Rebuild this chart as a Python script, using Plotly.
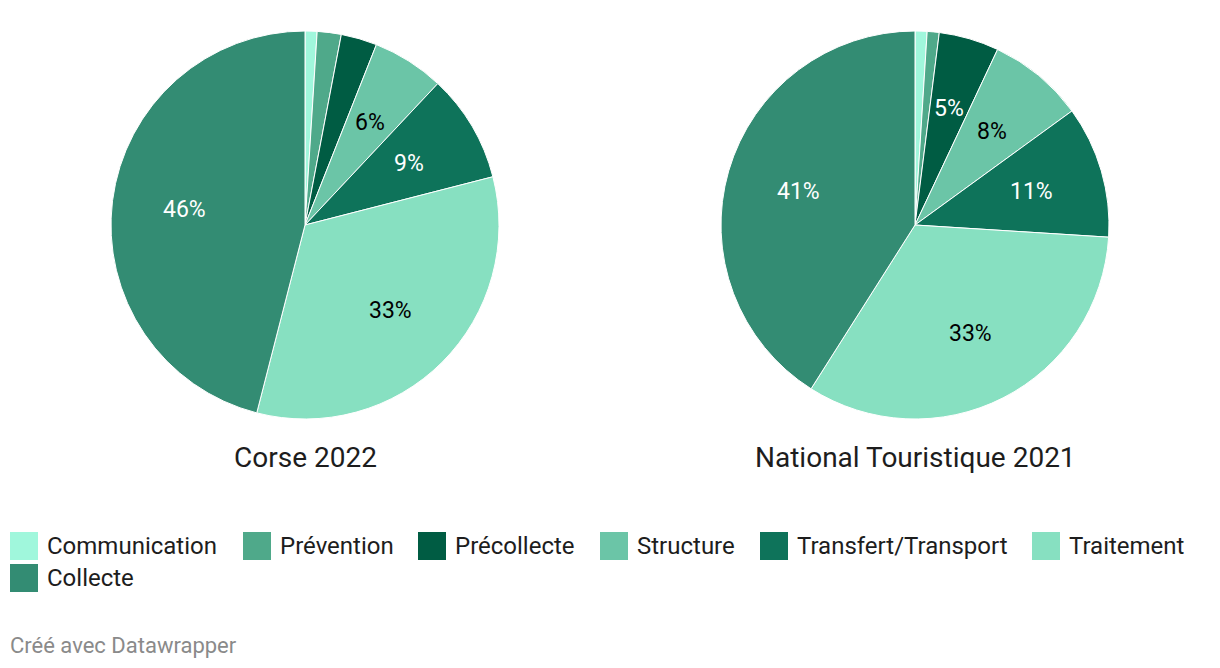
import math
import plotly.graph_objects as go

categories = ["Communication", "Prévention", "Précollecte", "Structure",
              "Transfert/Transport", "Traitement", "Collecte"]
corse_2022 = [1, 2, 3, 6, 9, 33, 46]
national_2021 = [1, 1, 5, 8, 11, 33, 41]
chart_titles = ["Corse 2022", "National Touristique 2021"]

colors = ["#a0f7dc", "#4fa98a", "#005c43", "#6bc5a7", "#0e735a", "#87e0c1", "#338c73"]
label_colors = ["#000000", "#ffffff", "#ffffff", "#000000", "#ffffff", "#000000", "#ffffff"]

W, H = 1220, 668
FONT = "Roboto"
TXT = "#1d1d1d"

fig = go.Figure()

domains_x = [[111 / W, 499 / W], [721 / W, 1109 / W]]
domain_y = [1 - 419 / H, 1 - 31 / H]

annotations = []
for series, dx in zip([corse_2022, national_2021], domains_x):
    fig.add_trace(go.Pie(
        labels=categories,
        values=series,
        textinfo="none",
        marker=dict(colors=colors, line=dict(color="#ffffff", width=1)),
        sort=False,
        direction="clockwise",
        rotation=0,
        domain=dict(x=dx, y=domain_y),
        showlegend=False,
        hoverinfo="label+value",
    ))
    # percentage labels placed on each slice's mid-angle (Datawrapper style)
    cx = (dx[0] + dx[1]) / 2 * W
    cy = (1 - (domain_y[0] + domain_y[1]) / 2) * H
    R = (dx[1] - dx[0]) * W / 2
    total = sum(series)
    cum = 0
    for v, lc in zip(series, label_colors):
        mid = (cum + v / 2) / total * 2 * math.pi
        cum += v
        if v < 5:
            continue
        rr = 0.625 * R
        px = cx + rr * math.sin(mid)
        py = cy - rr * math.cos(mid)
        annotations.append(dict(
            text=f"{v}%", x=px / W, y=1 - py / H,
            xref="paper", yref="paper", showarrow=False,
            xanchor="center", yanchor="middle",
            font=dict(family=FONT, size=23, color=lc),
        ))

for title, dx in zip(chart_titles, domains_x):
    annotations.append(dict(
        text=title, x=(dx[0] + dx[1]) / 2, y=1 - 457 / H,
        xref="paper", yref="paper", showarrow=False,
        xanchor="center", yanchor="middle",
        font=dict(family=FONT, size=28, color=TXT),
    ))

# Custom legend (Datawrapper style) built from the category list
legend_pos = [(10, 546), (243, 546), (418, 546), (600, 546), (760, 546), (1032, 546), (10, 578)]
shapes = []
sq = 28
for cat, col, (lx, ly) in zip(categories, colors, legend_pos):
    shapes.append(dict(
        type="rect", xref="paper", yref="paper",
        x0=lx / W, x1=(lx + sq) / W,
        y0=1 - (ly + sq / 2) / H, y1=1 - (ly - sq / 2) / H,
        fillcolor=col, line=dict(width=0),
    ))
    annotations.append(dict(
        text=cat, x=(lx + sq + 7) / W, y=1 - ly / H,
        xref="paper", yref="paper", showarrow=False,
        xanchor="left", yanchor="middle",
        font=dict(family=FONT, size=24, color=TXT),
    ))

annotations.append(dict(
    text="Créé avec Datawrapper", x=8 / W, y=1 - 645 / H,
    xref="paper", yref="paper", showarrow=False,
    xanchor="left", yanchor="middle",
    font=dict(family=FONT, size=22, color="#8a8a8a"),
))

fig.update_layout(
    width=W, height=H,
    margin=dict(l=0, r=0, t=0, b=0),
    paper_bgcolor="#ffffff",
    plot_bgcolor="#ffffff",
    annotations=annotations,
    shapes=shapes,
    font=dict(family=FONT),
)

fig.write_html("out.html")
